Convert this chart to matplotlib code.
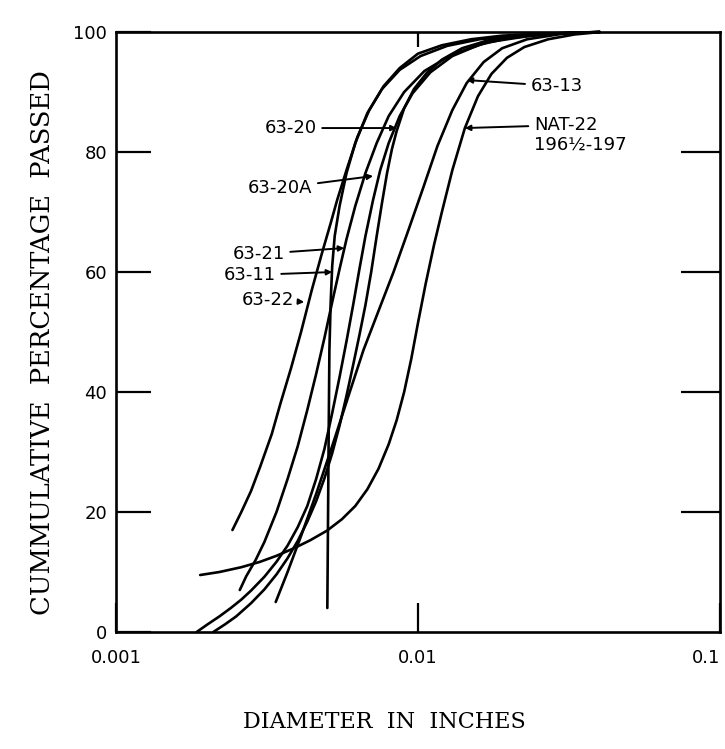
'''
    Grain size distribution curves (cumulative % passed vs diameter)
'''

import matplotlib
matplotlib.use('Agg')
import matplotlib.pyplot as plt
from matplotlib.ticker import FixedLocator, FixedFormatter, NullLocator

# (diameter in inches, cumulative % passed)
x_6322 = [0.00243, 0.0026, 0.0028, 0.003, 0.00328, 0.0035, 0.0038, 0.0041, 0.00445, 0.0048, 0.00513, 0.0054,
          0.0058, 0.0063, 0.0069, 0.0077, 0.0087, 0.0100, 0.012, 0.015, 0.019, 0.025, 0.032, 0.04]
y_6322 = [17, 20, 23.5, 27.5, 33, 38, 44, 50, 57, 63, 68, 72,
          77, 82.5, 87, 91, 94, 96.4, 97.8, 98.8, 99.4, 99.7, 99.9, 100]

x_6321 = [0.00257, 0.0027, 0.0029, 0.0031, 0.0034, 0.0037, 0.004, 0.0043, 0.0046, 0.0049, 0.0052, 0.0055,
          0.0058, 0.0062, 0.0067, 0.0073, 0.008, 0.009, 0.0105, 0.013, 0.017, 0.023, 0.03, 0.04]
y_6321 = [7, 9.3, 12, 15, 20, 25.5, 31, 37, 43, 49, 55, 60.5,
          65.5, 71, 76.5, 81.5, 86, 90, 93.5, 96.3, 98.3, 99.3, 99.8, 100]

x_6311 = [0.00501, 0.00503, 0.00506, 0.00509, 0.00514, 0.0052, 0.0053, 0.0055, 0.0058, 0.0062, 0.0068, 0.0076,
          0.0087, 0.0102, 0.0125, 0.016, 0.022, 0.03, 0.04]
y_6311 = [4, 15, 32, 47, 55, 61, 66, 71, 76.5, 81.5, 86.5, 90.5,
          93.7, 96, 97.7, 98.8, 99.5, 99.8, 100]

x_6313 = [0.00338, 0.0037, 0.0041, 0.0046, 0.0052, 0.0059, 0.0066, 0.0074, 0.0083, 0.0093, 0.0104, 0.0116,
          0.013, 0.0145, 0.0165, 0.019, 0.023, 0.03, 0.04]
y_6313 = [5, 10, 16, 23, 31, 39.5, 47, 53.5, 60, 67, 74, 81,
          87, 91.5, 95, 97.3, 98.8, 99.7, 100]

x_nat22 = [0.0019, 0.0022, 0.0026, 0.003, 0.0034, 0.0039, 0.0044, 0.005, 0.0056, 0.0062, 0.0068, 0.0074,
           0.008, 0.0085, 0.009, 0.0095, 0.01, 0.0106, 0.0113, 0.012, 0.013, 0.0143, 0.0158, 0.0175,
           0.0197, 0.0225, 0.027, 0.033, 0.04]
y_nat22 = [9.5, 10, 10.8, 11.7, 12.7, 14, 15.3, 16.9, 18.8, 21, 23.8, 27.2,
           31.3, 35.3, 40, 45.5, 51.5, 58, 64.5, 70, 77, 84, 89.3, 93,
           95.7, 97.5, 98.8, 99.6, 100]

x_6320a = [0.00185, 0.002, 0.0022, 0.0024, 0.0026, 0.0028, 0.0031, 0.0034, 0.0037, 0.004, 0.0043, 0.0046,
           0.0049, 0.0052, 0.0055, 0.0058, 0.0061, 0.0064, 0.0067, 0.0071, 0.0075, 0.008, 0.0087, 0.0096,
           0.011, 0.013, 0.016, 0.02, 0.026, 0.033, 0.04]
y_6320a = [0, 1.2, 2.6, 4, 5.4, 6.9, 9.2, 11.7, 14.4, 17.5, 21, 25.5,
           30.5, 36.5, 42.5, 48.5, 54.5, 60.5, 66, 72, 77, 81.5, 86, 89.8,
           93.3, 96, 97.9, 99, 99.6, 99.9, 100]

x_6320 = [0.0021, 0.0023, 0.0025, 0.0028, 0.0031, 0.0034, 0.0037, 0.004, 0.0043, 0.0046, 0.0049, 0.0052,
          0.0055, 0.0058, 0.0061, 0.0064, 0.0067, 0.007, 0.0073, 0.0076, 0.0079, 0.0082, 0.0085, 0.009,
          0.0097, 0.0107, 0.012, 0.014, 0.017, 0.021, 0.027, 0.034, 0.04]
y_6320 = [0, 1.3, 2.6, 4.8, 7.1, 9.6, 12.3, 15.2, 18.4, 21.8, 25.6, 29.8,
          34.4, 39.4, 44.5, 49.5, 54.5, 60, 66, 71.5, 76.5, 80.5, 83.5, 87.3,
          90.5, 93.2, 95.4, 97.3, 98.6, 99.3, 99.7, 99.9, 100]

curves = [(x_6322, y_6322), (x_6321, y_6321), (x_6311, y_6311), (x_6313, y_6313),
          (x_nat22, y_nat22), (x_6320a, y_6320a), (x_6320, y_6320)]

# label text, arrow tip (x, y), text anchor (x, y), alignment
labels = [
    ('63-13',  (0.0145, 92),  (0.0236, 91),   'left'),
    ('63-20',  (0.0085, 84),  (0.00462, 84),  'right'),
    ('NAT-22', (0.0143, 84),  (0.0242, 84.5), 'left'),
    ('63-20A', (0.0071, 76),  (0.00447, 74),  'right'),
    ('63-21',  (0.0057, 64),  (0.00362, 63),  'right'),
    ('63-11',  (0.0052, 60),  (0.00338, 59.5), 'right'),
    ('63-22',  (0.0042, 55),  (0.0039, 55.4), 'right'),
]

xticks = [0.001, 0.01, 0.1]
xticklabels = ['0.001', '0.01', '0.1']
yticks = [0, 20, 40, 60, 80, 100]
yticks_right = [20, 40, 60, 80]

lettering = 'DejaVu Sans'
serif = 'DejaVu Serif'

fig = plt.figure(figsize=(7.25, 7.49), dpi=100)
ax = fig.add_axes([0.160, 0.1562, 0.833, 0.801])

for x, y in curves:
    ax.plot(x, y, color='black', lw=1.9, solid_capstyle='round', solid_joinstyle='round', clip_on=False)

ax.set_xscale('log')
ax.set_xlim(0.001, 0.1)
ax.set_ylim(0, 100)

for s in ax.spines.values():
    s.set_linewidth(1.9)

ax.xaxis.set_major_locator(FixedLocator(xticks))
ax.xaxis.set_major_formatter(FixedFormatter(xticklabels))
ax.xaxis.set_minor_locator(NullLocator())
ax.set_yticks(yticks)
ax.tick_params(axis='x', direction='in', length=21, width=1.6, pad=12,
               labelsize=13, top=False)
ax.tick_params(axis='y', direction='in', length=25, width=1.6, pad=6.5,
               labelsize=13, right=False)
for t in ax.get_xticklabels() + ax.get_yticklabels():
    t.set_family(lettering)
# last label sits at the page edge, as in the scan
ax.get_xticklabels()[-1].set_horizontalalignment('right')

# right side ticks are longer, top tick is short
ax_r = ax.twinx()
ax_r.set_ylim(0, 100)
ax_r.set_yticks(yticks_right)
ax_r.tick_params(axis='y', direction='in', length=28, width=1.6, labelright=False)
ax_r.spines[:].set_visible(False)

ax_t = ax.twiny()
ax_t.set_xscale('log')
ax_t.set_xlim(0.001, 0.1)
ax_t.xaxis.set_major_locator(FixedLocator([0.01]))
ax_t.xaxis.set_minor_locator(NullLocator())
ax_t.tick_params(axis='x', direction='in', length=11, width=1.6, labeltop=False)
ax_t.spines[:].set_visible(False)

for text, tip, pos, ha in labels:
    ax.annotate(text, xy=tip, xytext=pos, ha=ha, va='center',
                fontsize=13, family=lettering,
                arrowprops=dict(arrowstyle='-|>', color='black', lw=1.4,
                                mutation_scale=8, shrinkA=2, shrinkB=0))
ax.text(0.0243, 81.2, '196\u00bd-197', ha='left', va='center', fontsize=13, family=lettering)

fig.text(0.530, 0.036, 'DIAMETER  IN  INCHES', ha='center', va='center',
         fontsize=16, family=serif)
fig.text(0.058, 0.543, 'CUMMULATIVE  PERCENTAGE  PASSED', ha='center', va='center',
         rotation=90, fontsize=18.5, family=serif)

fig.savefig('out.png', dpi=100)
